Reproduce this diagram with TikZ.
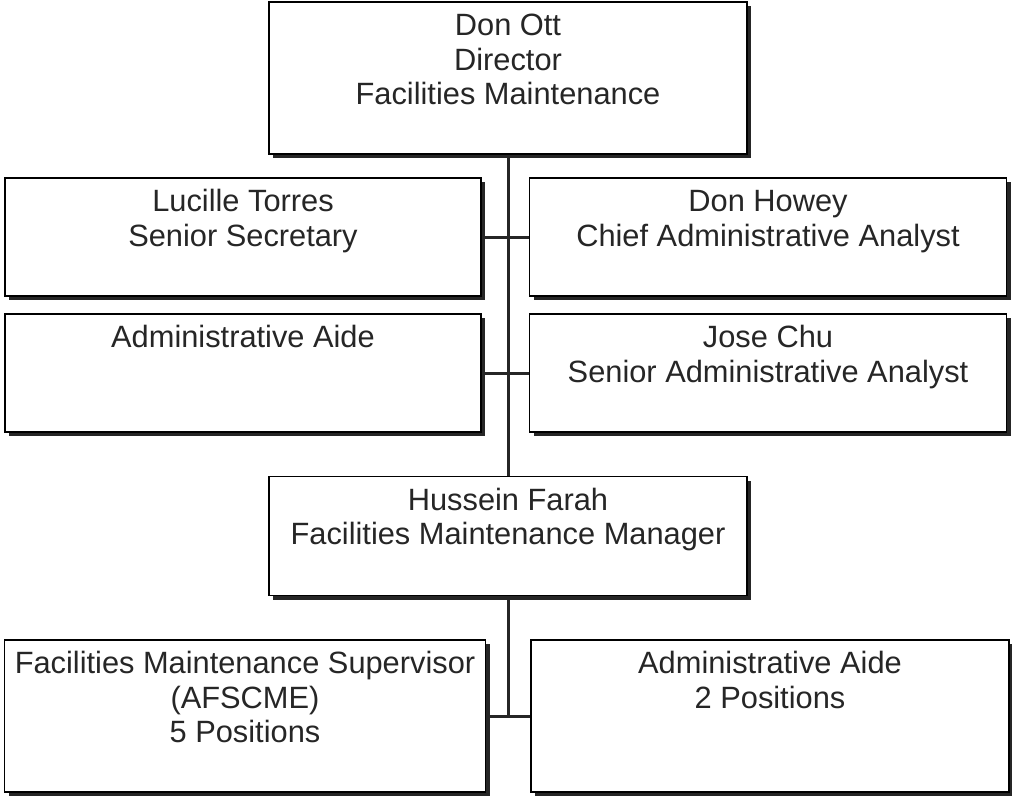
\documentclass[tikz,border=0pt]{standalone}
\usepackage{fontspec}
\setmainfont{Liberation Sans}
\usetikzlibrary{shadows}

\tikzset{
    box/.style={draw, line width=1.5pt, fill=white, inner sep=0pt, align=center,
        font=\fontsize{30.8}{34.5}\selectfont, text=black!85,
        drop shadow={shadow xshift=4pt, shadow yshift=-4pt, fill=black!85, opacity=1}},
    link/.style={line width=3pt, draw=black!85}
}

\begin{document}
\begin{tikzpicture}[x=1pt, y=-1pt]
    \useasboundingbox (0,0) rectangle (1012,796);
    % director
    \node[box, minimum width=478pt, text height=102.5pt, text depth=49.5pt] (dir) at (508,78)
        {Don Ott\\Director\\Facilities Maintenance};
    % staff rows
    \node[box, minimum width=476pt, text height=68pt, text depth=50pt] (sec) at (243,237)
        {Lucille Torres\\Senior Secretary};
    \node[box, minimum width=477pt, text height=68pt, text depth=50pt] (chief) at (768,237)
        {Don Howey\\Chief Administrative Analyst};
    \node[box, minimum width=476pt, text height=33.5pt, text depth=84.5pt] (aide) at (243,373)
        {Administrative Aide};
    \node[box, minimum width=477pt, text height=68pt, text depth=50pt] (jose) at (768,373)
        {Jose Chu\\Senior Administrative Analyst};
    % manager
    \node[box, minimum width=478pt, text height=68pt, text depth=51pt] (mgr) at (508,536)
        {Hussein Farah\\Facilities Maintenance Manager};
    % bottom row
    \node[box, minimum width=481pt, text height=102.5pt, text depth=49.5pt] (sup) at (245,716)
        {Facilities Maintenance Supervisor\\(AFSCME)\\5 Positions};
    \node[box, minimum width=478pt, text height=68pt, text depth=84pt] (aide2) at (770,716)
        {Administrative Aide\\2 Positions};
    % connectors
    \draw[link] (dir.south) -- (mgr.north);
    \draw[link] (sec.east) -- (chief.west);
    \draw[link] (aide.east) -- (jose.west);
    \draw[link] (mgr.south) -- (mgr.south |- sup.east);
    \draw[link] (sup.east) -- (aide2.west);
\end{tikzpicture}
\end{document}
